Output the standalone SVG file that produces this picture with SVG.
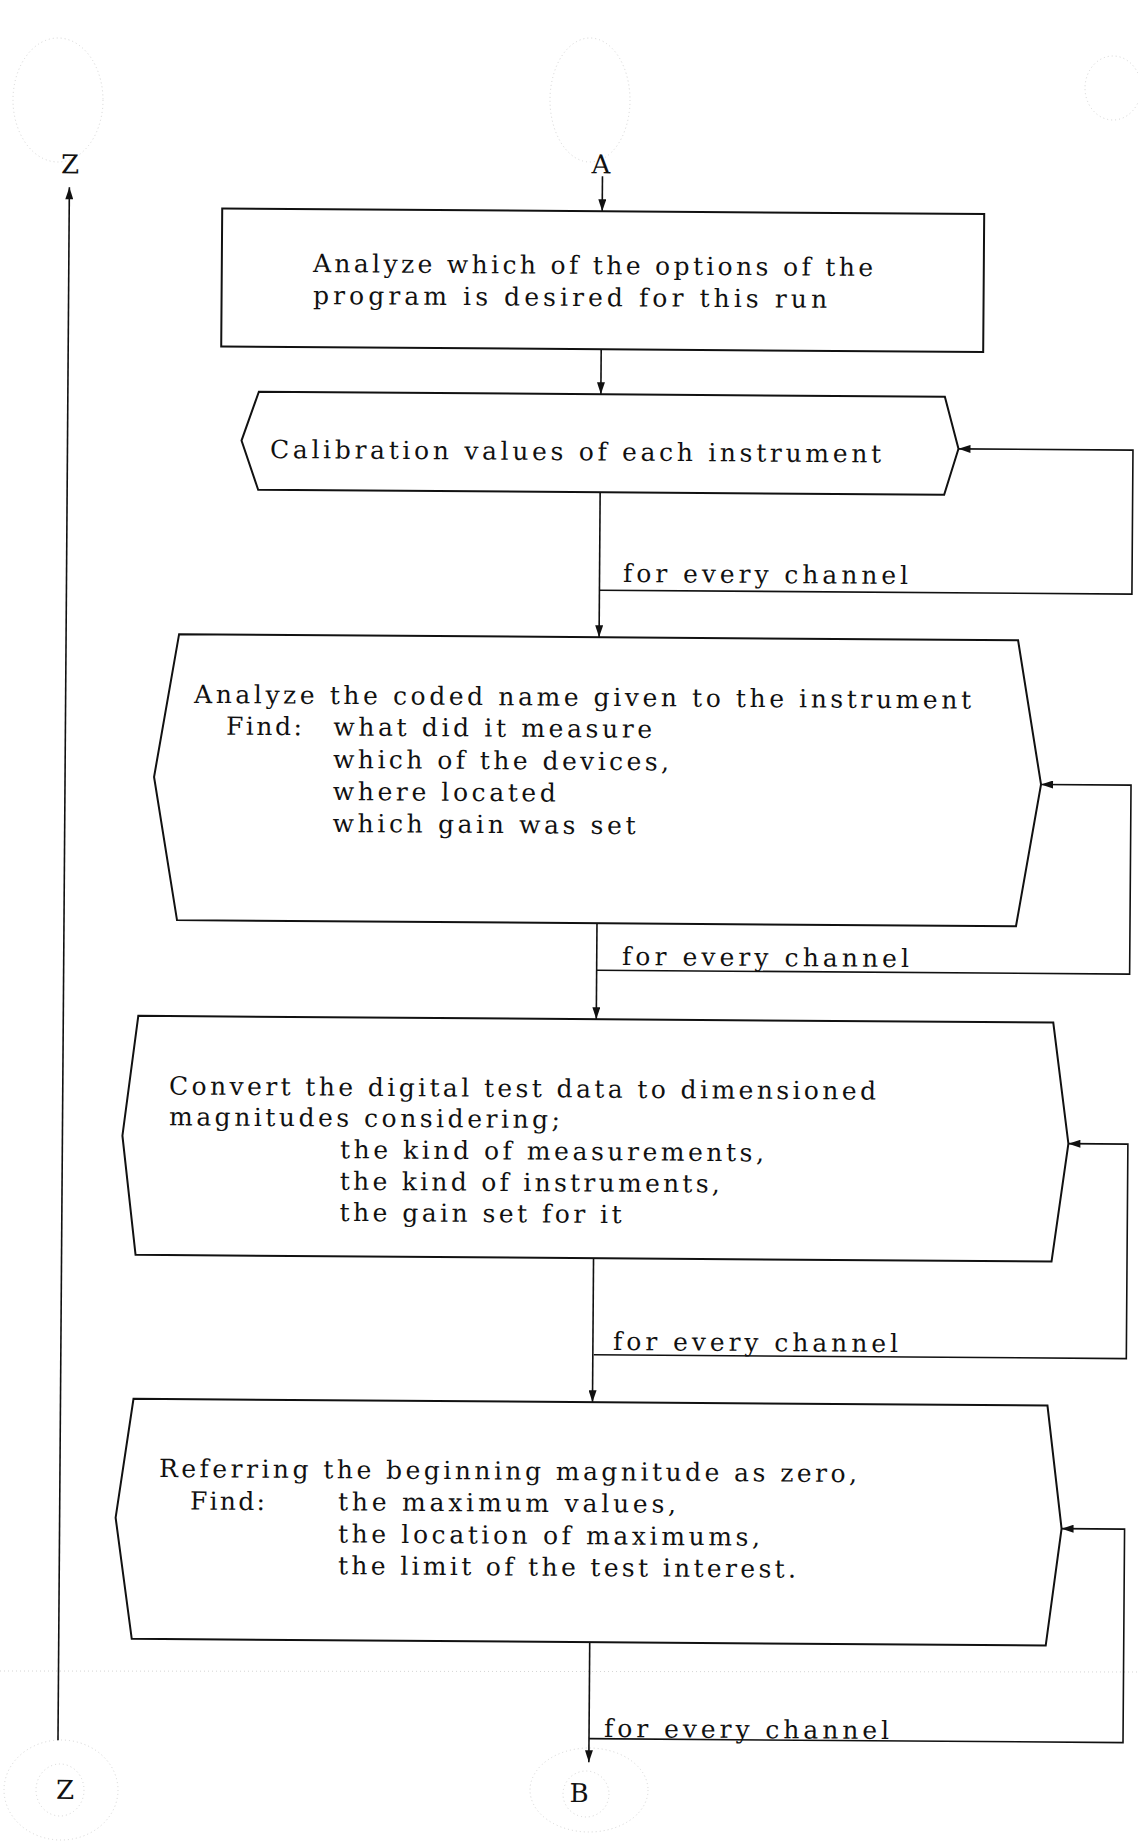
<svg xmlns="http://www.w3.org/2000/svg" width="1138" height="1844" viewBox="0 0 1138 1844">
  <defs>
    <marker id="arrow" viewBox="0 0 12 8" refX="12" refY="4" markerWidth="13" markerHeight="8" markerUnits="userSpaceOnUse" orient="auto">
      <path d="M0,0 L12,4 L0,8 z" fill="#111"/>
    </marker>
  </defs>
  <style>
    .box { fill: #fff; stroke: #111; stroke-width: 2; stroke-linejoin: miter; }
    .line { fill: none; stroke: #111; stroke-width: 1.6; }
    .arrow { marker-end: url(#arrow); }
    .txt { font-family: "DejaVu Serif", "Liberation Serif", serif; font-size: 25px; fill: #111; }
    .lbl { font-family: "DejaVu Serif", "Liberation Serif", serif; font-size: 26px; fill: #111; text-anchor: middle; }
    .faint { fill: none; stroke: #d4d4d4; stroke-width: 1; stroke-dasharray: 1 3; }
  </style>
  <rect width="1138" height="1844" fill="#fff"/>

  <!-- pencil rings around the off-page connectors -->
  <g id="pencil-marks">
    <ellipse class="faint" cx="58" cy="100" rx="45" ry="62"/>
    <ellipse class="faint" cx="590" cy="100" rx="40" ry="62"/>
    <ellipse class="faint" cx="1113" cy="88" rx="28" ry="32"/>
    <ellipse class="faint" cx="61" cy="1790" rx="57" ry="50"/>
    <ellipse class="faint" cx="60" cy="1790" rx="24" ry="26"/>
    <ellipse class="faint" cx="589" cy="1790" rx="59" ry="42"/>
    <ellipse class="faint" cx="586" cy="1794" rx="23" ry="23"/>
    <line class="faint" x1="0" y1="1671" x2="1138" y2="1672"/>
  </g>

  <g transform="rotate(0.42 569 922)">
    <!-- flow lines -->
    <g id="connectors">
      <path class="line arrow" d="M64 1744 V191"/>
      <path class="line arrow" d="M597 176 V211"/>
      <path class="line arrow" d="M597 349 V394"/>
      <path class="line arrow" d="M597 492 V637"/>
      <path class="line arrow" d="M597 923 V1019"/>
      <path class="line arrow" d="M596 1258 V1402"/>
      <path class="line arrow" d="M595 1642 V1762"/>
      <path class="line arrow" d="M597 590 H1129.5 V446 H955"/>
      <path class="line arrow" d="M597 970 H1130 V781 H1040"/>
      <path class="line arrow" d="M597 1354.5 H1129.5 V1140 H1070"/>
      <path class="line arrow" d="M595 1738.5 H1129 V1525 H1066"/>
      <text class="txt" x="620.5" y="581.6" textLength="285" lengthAdjust="spacing">for every channel</text>
      <text class="txt" x="622.3" y="964.6" textLength="287" lengthAdjust="spacing">for every channel</text>
      <text class="txt" x="616.1" y="1349.7" textLength="285" lengthAdjust="spacing">for every channel</text>
      <text class="txt" x="610" y="1736.7" textLength="285" lengthAdjust="spacing">for every channel</text>
    </g>

    <g id="connector-Z-top">
      <text class="lbl" x="64.5" y="177">Z</text>
    </g>
    <g id="connector-A">
      <text class="lbl" x="595.5" y="173">A</text>
    </g>
    <g id="connector-Z-bottom">
      <text class="lbl" x="71.5" y="1802.5">Z</text>
    </g>
    <g id="connector-B">
      <text class="lbl" x="585.5" y="1802">B</text>
    </g>

    <g id="select-options">
      <rect class="box" x="217" y="211" width="762" height="138"/>
      <text class="txt" x="308.2" y="273.9" textLength="560" lengthAdjust="spacing">Analyze which of the options of the</text>
      <text class="txt" x="308.5" y="305.9" textLength="514" lengthAdjust="spacing">program is desired for this run</text>
    </g>

    <g id="calibration-values">
      <polygon class="box" points="255,394 941,394 955,446 941,492 255,492 238,443"/>
      <text class="txt" x="266.6" y="460.2" textLength="611" lengthAdjust="spacing">Calibration values of each instrument</text>
    </g>

    <g id="decode-instrument-name">
      <polygon class="box" points="177,637 1016,637 1040,781 1016,923 177,923 153,780"/>
      <text class="txt" x="192.4" y="705.7" textLength="777" lengthAdjust="spacing">Analyze the coded name given to the instrument</text>
      <text class="txt" x="224.6" y="737.2" textLength="76" lengthAdjust="spacing">Find:</text>
      <text class="txt" x="331.8" y="737.2" textLength="319" lengthAdjust="spacing">what did it measure</text>
      <text class="txt" x="331.9" y="769.7" textLength="336" lengthAdjust="spacing">which of the devices,</text>
      <text class="txt" x="331.9" y="801.7" textLength="223" lengthAdjust="spacing">where located</text>
      <text class="txt" x="331.9" y="833.7" textLength="303" lengthAdjust="spacing">which gain was set</text>
    </g>

    <g id="convert-test-data">
      <polygon class="box" points="139,1019 1054,1019 1070,1140 1054,1258 138,1258 124,1139"/>
      <text class="txt" x="170.3" y="1097.4" textLength="707" lengthAdjust="spacing">Convert the digital test data to dimensioned</text>
      <text class="txt" x="170.5" y="1128.2" textLength="391" lengthAdjust="spacing">magnitudes considering;</text>
      <text class="txt" x="341.7" y="1159.9" textLength="424" lengthAdjust="spacing">the kind of measurements,</text>
      <text class="txt" x="341.7" y="1191.4" textLength="380" lengthAdjust="spacing">the kind of instruments,</text>
      <text class="txt" x="341.7" y="1222.7" textLength="282" lengthAdjust="spacing">the gain set for it</text>
    </g>

    <g id="find-maximums">
      <polygon class="box" points="137,1402 1051,1402 1066,1525 1051,1642 137,1642 120,1521"/>
      <text class="txt" x="163.1" y="1480" textLength="698" lengthAdjust="spacing">Referring the beginning magnitude as zero,</text>
      <text class="txt" x="194.3" y="1512.3" textLength="75" lengthAdjust="spacing">Find:</text>
      <text class="txt" x="342.3" y="1512" textLength="338" lengthAdjust="spacing">the maximum values,</text>
      <text class="txt" x="342.5" y="1544.2" textLength="422" lengthAdjust="spacing">the location of maximums,</text>
      <text class="txt" x="342.7" y="1575.9" textLength="458" lengthAdjust="spacing">the limit of the test interest.</text>
    </g>
  </g>
</svg>
